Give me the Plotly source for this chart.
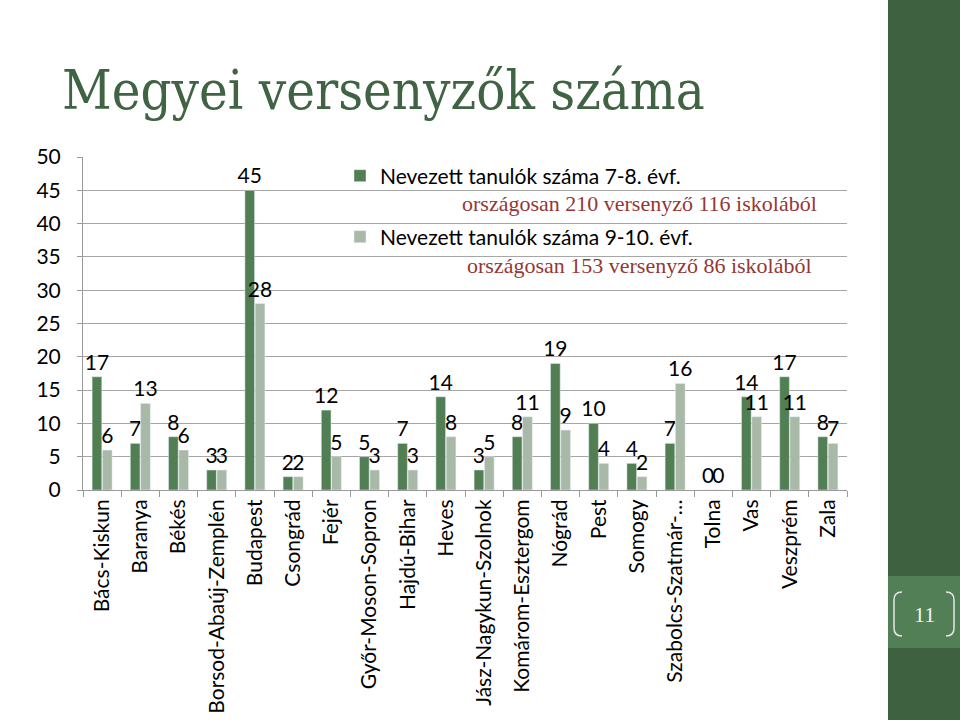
import plotly.graph_objects as go

counties = ["Bács-Kiskun", "Baranya", "Békés", "Borsod-Abaúj-Zemplén", "Budapest", "Csongrád",
            "Fejér", "Győr-Moson-Sopron", "Hajdú-Bihar", "Heves", "Jász-Nagykun-Szolnok",
            "Komárom-Esztergom", "Nógrád", "Pest", "Somogy", "Szabolcs-Szatmár-Bereg",
            "Tolna", "Vas", "Veszprém", "Zala"]
tick_labels = [c if c != "Szabolcs-Szatmár-Bereg" else "Szabolcs-Szatmár-…" for c in counties]
grade78 = [17, 7, 8, 3, 45, 2, 12, 5, 7, 14, 3, 8, 19, 10, 4, 7, 0, 14, 17, 8]
grade910 = [6, 13, 6, 3, 28, 2, 5, 3, 3, 8, 5, 11, 9, 4, 2, 16, 0, 11, 11, 7]
name78 = "Nevezett tanulók száma 7-8. évf."
name910 = "Nevezett tanulók száma 9-10. évf."
note78 = "országosan 210 versenyző 116 iskolából"
note910 = "országosan 153 versenyző 86 iskolából"
page_no = "11"

DARK = "#517f53"
LIGHT = "#a9b9a8"
BAND = "#3e6140"
SANS = "Lato, 'Open Sans', sans-serif"
SERIF = "'Liberation Serif', 'DejaVu Serif', serif"
TITLE_FONT = "'DejaVu Serif Condensed', 'DejaVu Serif', serif"

# plot area in pixels
L, R, T, B = 83, 847, 157, 490
W, H = 960, 720
pw, ph = R - L, B - T
def px_x(x): return (x - L) / pw
def px_y(y): return (B - y) / ph

fig = go.Figure()
fig.add_trace(go.Bar(x=counties, y=grade78, name=name78, marker_color=DARK,
                     text=grade78, textposition="outside", cliponaxis=False, constraintext="none",
                     textfont=dict(family=SANS, size=21, color="black"), legend="legend", showlegend=True))
fig.add_trace(go.Bar(x=counties, y=grade910, name=name910, marker_color=LIGHT,
                     text=grade910, textposition="outside", cliponaxis=False, constraintext="none",
                     textfont=dict(family=SANS, size=21, color="black"), legend="legend2", showlegend=True))

def bracket(x_outer, x_inner, y0, y1):
    r = 8
    return (f"M {px_x(x_inner)},{px_y(y0)} Q {px_x(x_outer)},{px_y(y0)} {px_x(x_outer)},{px_y(y0 + r)} "
            f"L {px_x(x_outer)},{px_y(y1 - r)} Q {px_x(x_outer)},{px_y(y1)} {px_x(x_inner)},{px_y(y1)}")

shapes = [
    dict(type="rect", xref="paper", yref="paper", x0=px_x(888), x1=px_x(960), y0=px_y(720), y1=px_y(0),
         fillcolor=BAND, line_width=0, layer="below"),
    dict(type="rect", xref="paper", yref="paper", x0=px_x(888), x1=px_x(960), y0=px_y(648), y1=px_y(576),
         fillcolor="#527f55", line_width=0, layer="below"),
    dict(type="path", xref="paper", yref="paper", path=bracket(894, 902, 592, 636),
         line=dict(color="#e6e6e6", width=1.5)),
    dict(type="path", xref="paper", yref="paper", path=bracket(954, 946, 592, 636),
         line=dict(color="#e6e6e6", width=1.5)),
]
annotations = [
    dict(text="Megyei versenyzők száma", xref="paper", yref="paper", x=px_x(60), y=px_y(124),
         xanchor="left", yanchor="bottom", showarrow=False,
         font=dict(family=TITLE_FONT, size=54, color="#3f6343")),
    dict(text=note78, xref="paper", yref="paper", x=px_x(819), y=px_y(203),
         xanchor="right", yanchor="middle", showarrow=False,
         font=dict(family=SERIF, size=22, color="#953735")),
    dict(text=note910, xref="paper", yref="paper", x=px_x(814), y=px_y(265),
         xanchor="right", yanchor="middle", showarrow=False,
         font=dict(family=SERIF, size=22, color="#953735")),
    dict(text=page_no, xref="paper", yref="paper", x=px_x(924), y=px_y(614),
         xanchor="center", yanchor="middle", showarrow=False,
         font=dict(family=SERIF, size=22, color="#f2f2f2")),
]

fig.update_layout(
    width=W, height=H, showlegend=True,
    margin=dict(l=L, r=W - R, t=T, b=H - B, autoexpand=False),
    paper_bgcolor="white", plot_bgcolor="rgba(0,0,0,0)",
    barmode="group", bargap=0.46, bargroupgap=0.06,
    shapes=shapes, annotations=annotations,
    legend=dict(x=px_x(340), y=px_y(176), xanchor="left", yanchor="middle",
                font=dict(family=SANS, size=21, color="black"), bgcolor="rgba(0,0,0,0)"),
    legend2=dict(x=px_x(340), y=px_y(237), xanchor="left", yanchor="middle",
                 font=dict(family=SANS, size=21, color="black"), bgcolor="rgba(0,0,0,0)"),
)
fig.update_xaxes(tickvals=counties, ticktext=tick_labels, tickangle=-90, automargin=False,
                 tickfont=dict(family=SANS, size=21, color="black"),
                 showline=True, linecolor="#9a9a9a", linewidth=1,
                 ticks="outside", tickson="boundaries", ticklen=6, tickcolor="#9a9a9a")
fig.update_yaxes(range=[0, 50], dtick=5, automargin=False,
                 tickfont=dict(family=SANS, size=21, color="black"), ticklabelstandoff=12,
                 showgrid=True, gridcolor="#a6a6a6", gridwidth=1,
                 showline=True, linecolor="#9a9a9a", linewidth=1,
                 ticks="outside", ticklen=5, tickcolor="#9a9a9a", zeroline=False)

fig.write_html("out.html")
